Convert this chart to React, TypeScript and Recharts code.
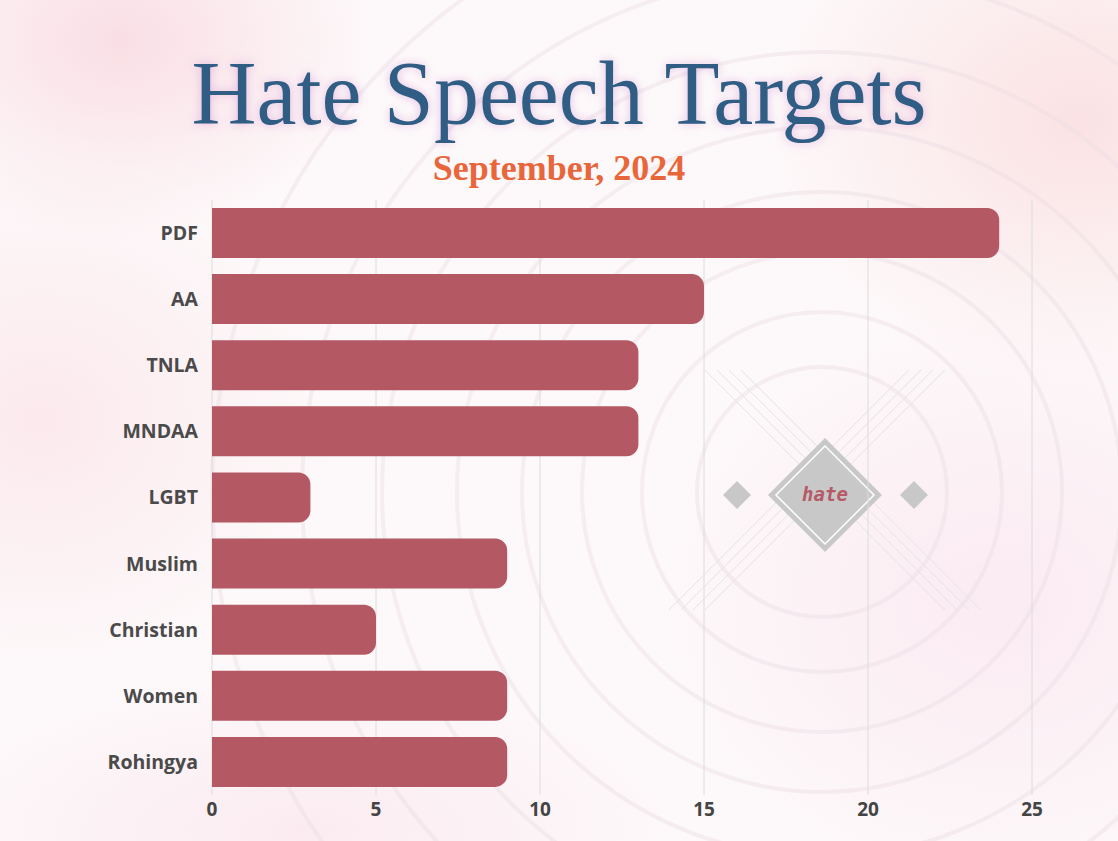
import { BarChart, Bar, XAxis, YAxis, CartesianGrid } from 'recharts'

const targets = ['PDF', 'AA', 'TNLA', 'MNDAA', 'LGBT', 'Muslim', 'Christian', 'Women', 'Rohingya']
const counts = [24, 15, 13, 13, 3, 9, 5, 9, 9]
const xTicks = [0, 5, 10, 15, 20, 25]

const data = targets.map((name, i) => ({ name, value: counts[i] }))

const W = 1118
const H = 841

function Backdrop() {
  const rings = [125, 180, 240, 300, 365, 440, 520, 610]
  return (
    <svg width={W} height={H} style={{ position: 'absolute', left: 0, top: 0 }}>
      {rings.map((r) => (
        <circle key={r} cx={822} cy={492} r={r} fill="none" stroke="#ecdde4" strokeWidth={4} opacity={0.45} />
      ))}
      <g stroke="#e4e4e4" strokeWidth={1}>
        {[0, 12, 24, 36].map((d) => (
          <g key={d}>
            <line x1={705 + d} y1={370} x2={945 + d} y2={610} />
            <line x1={945 - d} y1={370} x2={705 - d} y2={610} />
          </g>
        ))}
      </g>
      <polygon points="825,438 882,495 825,552 768,495" fill="#c8c8c8" />
      <polygon points="825,446 874,495 825,544 776,495" fill="none" stroke="#ffffff" strokeWidth={1.5} />
      <polygon points="737,481 751,495 737,509 723,495" fill="#c8c8c8" />
      <polygon points="914,481 928,495 914,509 900,495" fill="#c8c8c8" />
      <text x={825} y={501} textAnchor="middle" fontFamily="DejaVu Sans Mono" fontStyle="italic" fontWeight="bold" fontSize={19} fill="#b55a66">
        hate
      </text>
    </svg>
  )
}

export default function App() {
  return (
    <div
      style={{
        position: 'absolute',
        left: 0,
        top: 0,
        width: W,
        height: H,
        overflow: 'hidden',
        background:
          'radial-gradient(ellipse 260px 200px at 120px 40px, rgba(248,214,222,0.75), rgba(255,255,255,0) 100%),' +
          'radial-gradient(ellipse 300px 260px at 40px 420px, rgba(250,222,228,0.6), rgba(255,255,255,0) 100%),' +
          'radial-gradient(ellipse 320px 260px at 1080px 120px, rgba(250,220,222,0.8), rgba(255,255,255,0) 100%),' +
          'radial-gradient(ellipse 360px 300px at 1000px 600px, rgba(250,228,238,0.7), rgba(255,255,255,0) 100%),' +
          'radial-gradient(ellipse 400px 160px at 300px 830px, rgba(250,226,234,0.6), rgba(255,255,255,0) 100%), #fdf9fa',
      }}
    >
      <Backdrop />
      <div
        style={{
          position: 'absolute',
          left: 0,
          top: 44,
          width: W,
          textAlign: 'center',
          fontFamily: '"Liberation Serif", serif',
          fontSize: 90,
          color: '#2f5d84',
          lineHeight: '100px',
          textShadow: '0 0 10px rgba(210,140,210,0.55)',
        }}
      >
        Hate Speech Targets
      </div>
      <div
        style={{
          position: 'absolute',
          left: 0,
          top: 148,
          width: W,
          textAlign: 'center',
          fontFamily: '"Liberation Serif", serif',
          fontWeight: 'bold',
          fontSize: 36,
          color: '#e9663b',
          lineHeight: '40px',
        }}
      >
        September, 2024
      </div>
      <div style={{ position: 'absolute', left: 0, top: 0 }}>
        <BarChart
          width={W}
          height={H}
          data={data}
          layout="vertical"
          margin={{ top: 200, right: 86, bottom: 16, left: 0 }}
          barSize={50}
        >
          <CartesianGrid horizontal={false} stroke="#dcdcdc" />
          <XAxis
            type="number"
            domain={[0, 25]}
            ticks={xTicks}
            axisLine={false}
            tickLine={false}
            height={30}
            tick={{ fill: '#444444', fontSize: 19, fontWeight: 700, fontFamily: '"Open Sans"' }}
            tickMargin={2}
          />
          <YAxis
            type="category"
            dataKey="name"
            width={212}
            axisLine={false}
            tickLine={false}
            tickMargin={8}
            tick={{ fill: '#4a4a4a', fontSize: 19.5, fontWeight: 700, fontFamily: '"Open Sans"' }}
          />
          <Bar dataKey="value" fill="#b45964" radius={[0, 12, 12, 0]} isAnimationActive={false} />
        </BarChart>
      </div>
    </div>
  )
}
